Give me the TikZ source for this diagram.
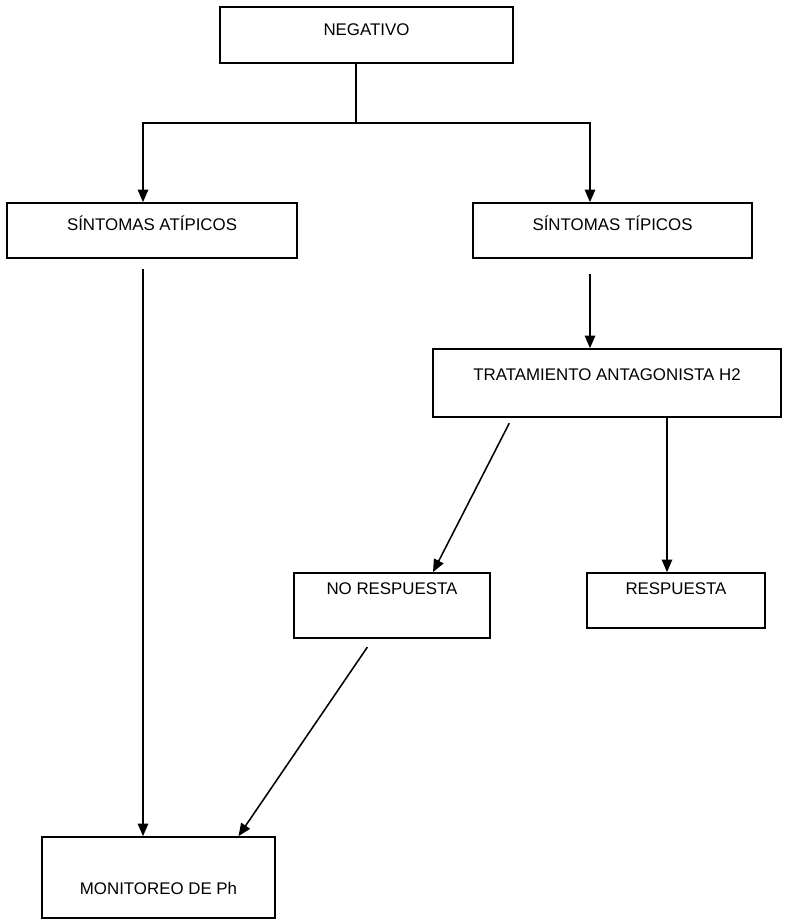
\documentclass[tikz,border=0pt]{standalone}
\usepackage{fontspec}
\setmainfont{Liberation Sans}
\usetikzlibrary{arrows.meta,positioning,calc}

\begin{document}
\begin{tikzpicture}[
  x=0.25mm, y=-0.25mm,
  font=\fontsize{12}{14}\selectfont,
  >={Triangle[length=9pt,width=7.5pt]},
  bx/.style={draw, line width=1.2pt, inner sep=0pt, anchor=base},
  ln/.style={draw=black, line width=1.1pt}]

\useasboundingbox (0,0) rectangle (784,921);

% ===== boxes =====
\node[bx, minimum width=73.25mm, text height=7.125mm, text depth=6.875mm] (neg)   at (366.5,35.5) {NEGATIVO};
\node[bx, minimum width=72.5mm,  text height=6.75mm,  text depth=7mm]     (atip)  at (152,230)    {SÍNTOMAS ATÍPICOS};
\node[bx, minimum width=69.75mm, text height=6.75mm,  text depth=7mm]     (tip)   at (612.5,230)  {SÍNTOMAS TÍPICOS};
\node[bx, minimum width=87mm,    text height=7.75mm,  text depth=9.25mm]  (trat)  at (607,380)    {TRATAMIENTO ANTAGONISTA H2};
\node[bx, minimum width=49mm,    text height=5.25mm,  text depth=11mm]    (nores) at (392,594)    {NO RESPUESTA};
\node[bx, minimum width=44.5mm,  text height=5.25mm,  text depth=8.5mm]   (res)   at (676,594)    {RESPUESTA};
\node[bx, minimum width=58.25mm, text height=14.25mm, text depth=6mm]     (mon)   at (158.5,894)  {MONITOREO DE Ph};

% ===== junction =====
\coordinate (split) at (356,123);
\coordinate (jl) at (143,123);
\coordinate (jr) at (590,123);

% ===== edges =====
\draw[ln] (neg.south -| split) -- (split);
\draw[ln, ->] (split) -| (atip.north -| jl);
\draw[ln, ->] (split) -| (tip.north -| jr);
\draw[ln, ->, shorten <=2.5mm] (atip.south -| jl) -- (mon.north -| jl);
\draw[ln, ->, shorten <=3.75mm] (tip.south -| jr) -- (trat.north -| jr);
\draw[ln, ->, shorten <=1.5mm] ([xshift=-23.75mm]trat.south) -- ([xshift=10.25mm]nores.north);
\draw[ln, ->] ([xshift=15mm]trat.south) -- ([xshift=15mm]trat.south |- res.north);
\draw[ln, ->, shorten <=2.5mm] ([xshift=-4.75mm]nores.south) -- ([xshift=20mm]mon.north);

\end{tikzpicture}
\end{document}
